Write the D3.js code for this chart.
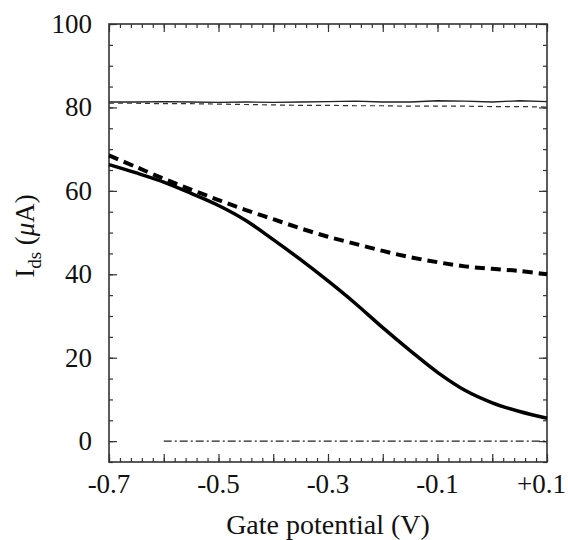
<!DOCTYPE html>
<html>
<head>
<meta charset="utf-8">
<script src="https://cdn.jsdelivr.net/npm/d3@7"></script>
<style>
body { margin: 0; background: #fff; }
text { font-family: "Liberation Serif", "Times New Roman", serif; fill: #111; }
</style>
</head>
<body>
<svg id="graph" width="568" height="540"></svg>
<script>
// Gate potential (V) sample points
var gate = [-0.70, -0.65, -0.60, -0.55, -0.50, -0.45, -0.40, -0.35, -0.30,
            -0.25, -0.20, -0.15, -0.10, -0.05, 0.00, 0.05, 0.10];

// Thick solid curve (sigmoid drop)
var idsSolid = [66.3, 64.3, 62.1, 59.4, 56.5, 52.9, 48.3, 43.5, 38.4,
                33.0, 27.2, 21.7, 16.5, 12.2, 9.2, 7.1, 5.5];

// Thick dashed curve
var idsDashed = [68.5, 65.7, 62.9, 60.3, 57.8, 55.4, 53.2, 51.0, 49.0,
                 47.3, 45.6, 44.1, 42.9, 41.9, 41.3, 40.8, 40.0];

// Thin lines near 80 uA
var refSolid = [81.3, 81.3, 81.4, 81.3, 81.2, 81.3, 81.2, 81.3, 81.4,
                81.5, 81.3, 81.3, 81.6, 81.5, 81.3, 81.6, 81.4];
var refDashed = [81.0, 81.0, 80.9, 80.9, 80.8, 80.7, 80.6, 80.5, 80.5,
                 80.4, 80.4, 80.3, 80.3, 80.3, 80.2, 80.2, 80.1];

// Dash-dot zero line
var zeroGate = [-0.60, 0.10];
var zeroIds = [0, 0];

// Tick values and labels
var xTicks = [-0.7, -0.5, -0.3, -0.1, 0.1];
var xTickLabels = ["-0.7", "-0.5", "-0.3", "-0.1", "+0.1"];
var yTicks = [0, 20, 40, 60, 80, 100];

var svg = d3.select("#graph"),
    margin = {top: 24, right: 21, bottom: 78, left: 109},
    width = +svg.attr("width"),
    height = +svg.attr("height");

var x = d3.scaleLinear().domain([-0.7, 0.1]).range([margin.left, width - margin.right]);
var y = d3.scaleLinear().domain([-5, 100]).range([height - margin.bottom, margin.top]);

var x0 = x.range()[0], x1 = x.range()[1], y0 = y.range()[0], y1 = y.range()[1];

// minor / medium tick positions
var xMinor = d3.range(0, 41).map(i => -0.7 + i * 0.02);
var xMid = d3.range(0, 9).map(i => -0.7 + i * 0.1);
var yMinor = d3.range(0, 22).map(i => -5 + i * 5);

function tickAxis(axis, vals, size) {
    return axis.tickValues(vals).tickSize(size).tickFormat("");
}

var axisColor = "#333";

// bottom & top
svg.append("g").attr("transform", "translate(0," + y0 + ")")
    .call(tickAxis(d3.axisBottom(x), xMinor, -4));
svg.append("g").attr("transform", "translate(0," + y0 + ")")
    .call(tickAxis(d3.axisBottom(x), xMid, -8));
svg.append("g").attr("transform", "translate(0," + y1 + ")")
    .call(tickAxis(d3.axisTop(x), xMinor, -4));
svg.append("g").attr("transform", "translate(0," + y1 + ")")
    .call(tickAxis(d3.axisTop(x), xMid, -8));
// left & right
svg.append("g").attr("transform", "translate(" + x0 + ",0)")
    .call(tickAxis(d3.axisLeft(y), yMinor, -4));
svg.append("g").attr("transform", "translate(" + x0 + ",0)")
    .call(tickAxis(d3.axisLeft(y), yTicks, -8));
svg.append("g").attr("transform", "translate(" + x1 + ",0)")
    .call(tickAxis(d3.axisRight(y), yMinor, -4));
svg.append("g").attr("transform", "translate(" + x1 + ",0)")
    .call(tickAxis(d3.axisRight(y), yTicks, -8));

svg.selectAll(".domain").remove();
svg.selectAll(".tick line").attr("stroke", axisColor).attr("stroke-width", 1.2);

// frame
svg.append("rect")
    .attr("x", x0).attr("y", y1)
    .attr("width", x1 - x0).attr("height", y0 - y1)
    .attr("fill", "none").attr("stroke", axisColor).attr("stroke-width", 1.6);

// tick labels (keep the last one inside the page)
svg.append("g").selectAll("text").data(xTicks).join("text")
    .attr("y", y0 + 31)
    .attr("text-anchor", "middle").attr("font-size", 27)
    .text((d, i) => xTickLabels[i])
    .attr("x", function(d) {
        var half = this.getComputedTextLength() / 2;
        return Math.min(x(d), width - 2 - half);
    });

svg.append("g").selectAll("text").data(yTicks).join("text")
    .attr("x", x0 - 17).attr("y", d => y(d) + 9)
    .attr("text-anchor", "end").attr("font-size", 27)
    .text(d => d);

// axis titles
svg.append("text")
    .attr("x", (x0 + x1) / 2).attr("y", 534)
    .attr("text-anchor", "middle").attr("font-size", 28)
    .text("Gate potential (V)");

var yt = svg.append("text")
    .attr("transform", "translate(34,236) rotate(-90)")
    .attr("text-anchor", "middle").attr("font-size", 27);
yt.append("tspan").text("I");
yt.append("tspan").attr("font-size", 19).attr("dy", 7).text("ds");
yt.append("tspan").attr("dy", -7).text(" (");
yt.append("tspan").attr("font-style", "italic").text("\u03bc");
yt.append("tspan").text("A)");

// lines
function series(xs, ys) { return xs.map((v, i) => [v, ys[i]]); }

var line = d3.line().x(p => x(p[0])).y(p => y(p[1]));
var smooth = d3.line().x(p => x(p[0])).y(p => y(p[1])).curve(d3.curveCatmullRom.alpha(0.5));

svg.append("path").datum(series(gate, refSolid))
    .attr("fill", "none").attr("stroke", "#222").attr("stroke-width", 1.3)
    .attr("d", line);

svg.append("path").datum(series(gate, refDashed))
    .attr("fill", "none").attr("stroke", "#333").attr("stroke-width", 1.2)
    .attr("stroke-dasharray", "5,4")
    .attr("d", line);

svg.append("path").datum(series(gate, idsDashed))
    .attr("fill", "none").attr("stroke", "#000").attr("stroke-width", 4)
    .attr("stroke-dasharray", "10,6")
    .attr("d", smooth);

svg.append("path").datum(series(gate, idsSolid))
    .attr("fill", "none").attr("stroke", "#000").attr("stroke-width", 3.5)
    .attr("d", smooth);

svg.append("path").datum(series(zeroGate, zeroIds))
    .attr("fill", "none").attr("stroke", "#222").attr("stroke-width", 1.2)
    .attr("stroke-dasharray", "8,3,2,3")
    .attr("d", line);
</script>
</body>
</html>
